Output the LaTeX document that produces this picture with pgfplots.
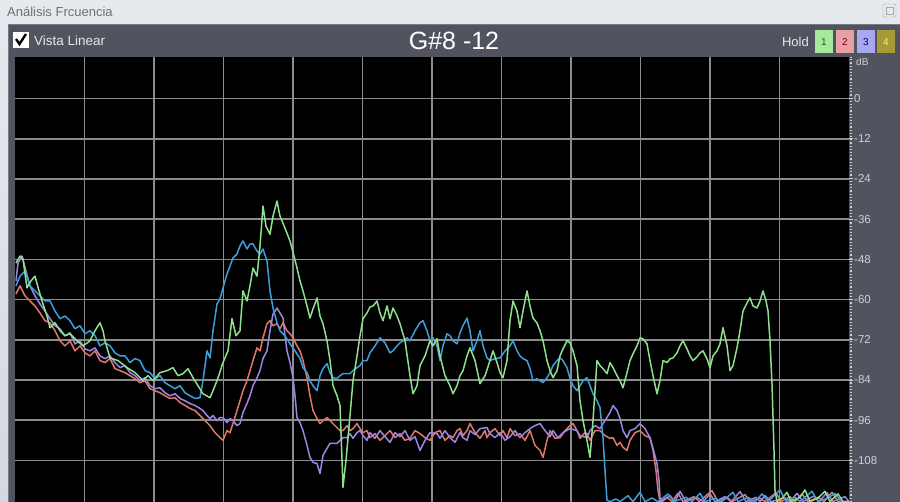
\documentclass[border=0pt]{standalone}
\usepackage{fontspec}
\setmainfont{Liberation Sans}
\usepackage{pgfplots}
\pgfplotsset{compat=1.18}
\definecolor{tbtop}{HTML}{E6EAEF}
\definecolor{tbbot}{HTML}{D3D9E0}
\definecolor{panel}{HTML}{51545F}
\definecolor{panelborder}{HTML}{767A84}
\definecolor{titletxt}{HTML}{6B7078}
\definecolor{ltxt}{HTML}{E4E6EA}
\definecolor{gridc}{HTML}{8C8C8C}
\definecolor{ticktxt}{HTML}{CDD0D6}
\definecolor{sgreen}{HTML}{8FE08C}
\definecolor{sblue}{HTML}{3C9FDC}
\definecolor{sred}{HTML}{E0786A}
\definecolor{spurple}{HTML}{9B86E6}
\definecolor{bgreen}{HTML}{A6E89C}
\definecolor{bpink}{HTML}{E8A0A8}
\definecolor{bpurple}{HTML}{A8A8F0}
\definecolor{bolive}{HTML}{A49A3C}
\begin{document}
\begin{tikzpicture}[x=1pt,y=1pt]
\useasboundingbox (0,0) rectangle (900,502);
\shade[top color=tbtop,bottom color=tbbot] (0,0) rectangle (900,502);
\fill[panel] (8,0) rectangle (900,478);
\draw[panelborder,line width=1pt] (8.5,0) -- (8.5,477.5) -- (900,477.5);
\node[anchor=west,text=titletxt,font=\fontsize{13}{13}\selectfont,inner sep=0pt] at (7,490) {Análisis Frcuencia};
\draw[gray!70,fill=tbtop,rounded corners=1.5pt] (883,485) rectangle (896,498);
\draw[gray!70] (886,488) rectangle (893,495);
% checkbox
\fill[white] (13,454) rectangle (29,470);
\draw[line width=2.4pt,black] (16,463)--(19.5,458)--(26,468);
\node[anchor=west,text=ltxt,font=\fontsize{13.5}{13.5}\selectfont,inner sep=0pt] at (34,461.5) {Vista Linear};
\node[text=white,font=\fontsize{25}{25}\selectfont,inner sep=0pt] at (454,461) {G\#8 -12};
\node[anchor=east,text=ltxt,font=\fontsize{13}{13}\selectfont,inner sep=0pt] at (809,460.5) {Hold};
\fill[bgreen] (815,449) rectangle (833,472);
\fill[bpink] (836,449) rectangle (854,472);
\fill[bpurple] (857,449) rectangle (875,472);
\fill[bolive] (877,449) rectangle (895,472);
\node[text=green!45!black,font=\fontsize{10}{10}\selectfont] at (824,460) {1};
\node[text=red!50!black,font=\fontsize{10}{10}\selectfont] at (845,460) {2};
\node[text=blue!50!black,font=\fontsize{10}{10}\selectfont] at (866,460) {3};
\node[text=yellow!70!white,font=\fontsize{10}{10}\selectfont] at (886,460) {4};
\begin{axis}[
  at={(15pt,0pt)}, anchor=south west,
  width=834pt, height=445pt, scale only axis,
  xmin=15, xmax=849, ymin=-120.4, ymax=12.4,
  axis background/.style={fill=black},
  axis line style={draw=none},
  xtick={84.5,154,223.5,293,362.5,432,501.5,571,640.5,710,779.5},
  xticklabels={},
  ytick={0,-12,-24,-36,-48,-60,-72,-84,-96,-108},
  grid=major,
  major grid style={gridc,line width=1.6pt},
  yticklabel pos=right, ytick pos=right,
  xtick style={draw=none},
  ytick style={draw=ticktxt,line width=1pt},
  tick align=outside, major tick length=4pt,
  yticklabel style={font=\fontsize{11.5}{11.5}\selectfont,text=ticktxt,inner sep=1pt},
  /pgf/number format/assume math mode=true,
  every axis plot/.append style={line width=1.5pt,line join=round,mark=none},
]
% red (Hold 2)
\addplot[sred] coordinates {
(16,-58.3)(20,-55.9)(25,-58.9)(30,-60.4)(35,-61.9)(40,-64.0)(45,-66.3)(50,-66.9)(55,-69.3)(60,-72.3)
(65,-73.8)(70,-72.3)(75,-75.3)(80,-73.8)(85,-75.9)(90,-76.8)(95,-75.3)(100,-78.2)(105,-78.8)(110,-77.6)
(115,-80.6)(120,-81.2)(125,-81.8)(130,-82.7)(135,-83.6)(140,-84.8)(145,-84.2)(150,-86.6)(155,-87.2)(160,-87.8)
(165,-88.7)(170,-89.5)(175,-89.3)(180,-90.7)(185,-91.6)(190,-92.5)(195,-93.1)(200,-94.6)(205,-96.1)(210,-97.6)
(215,-99.7)(220,-101.2)(223,-102.0)(227,-99.1)(230,-99.7)(233,-97.0)(237,-93.1)(240,-90.2)(243,-87.2)(247,-84.2)
(250,-81.2)(253,-78.2)(257,-74.4)(260,-75.3)(263,-71.4)(267,-67.2)(270,-66.3)(273,-67.8)(277,-67.2)(280,-68.7)
(283,-66.9)(287,-69.3)(290,-70.2)(293,-71.4)(297,-73.8)(300,-75.3)(303,-78.2)(307,-83.3)(310,-88.7)(313,-93.1)
(317,-95.5)(320,-97.0)(323,-96.1)(327,-95.2)(330,-96.1)(333,-97.0)(337,-98.2)(340,-99.1)(343,-99.1)(347,-97.6)
(350,-99.1)(353,-98.5)(357,-97.0)(360,-98.5)(363,-99.7)(367,-99.1)(370,-101.2)(375,-100.0)(380,-102.0)(385,-100.6)
(390,-99.1)(395,-101.2)(400,-100.0)(405,-102.0)(410,-101.4)(415,-99.1)(420,-100.0)(425,-101.2)(430,-102.0)(435,-99.7)
(440,-99.1)(445,-102.0)(450,-100.6)(453,-101.2)(457,-99.1)(460,-98.5)(463,-100.6)(467,-99.1)(470,-97.0)(475,-99.7)
(480,-101.4)(485,-99.1)(487,-101.2)(490,-99.7)(495,-98.5)(500,-100.6)(503,-99.1)(507,-101.2)(510,-98.5)(515,-100.6)
(520,-100.0)(525,-102.0)(530,-99.1)(535,-103.5)(540,-105.0)(543,-107.1)(547,-102.0)(550,-99.1)(555,-101.4)(560,-101.2)
(565,-99.1)(570,-97.6)(573,-97.0)(577,-99.1)(580,-101.4)(585,-99.7)(587,-100.0)(590,-102.0)(595,-99.1)(600,-99.1)
(605,-100.6)(610,-101.4)(613,-101.2)(617,-103.5)(620,-102.6)(623,-104.1)(627,-105.0)(630,-102.0)(635,-99.7)(640,-99.1)
(645,-100.6)(650,-101.2)(653,-105.0)(656,-111.0)(658,-116.9)(660,-120.3)(667,-119.0)(672,-120.3)(678,-117.8)(683,-120.3)
(694,-118.8)(699,-120.3)(712,-117.0)(718,-120.3)(727,-119.0)(732,-120.3)(745,-118.2)(750,-120.3)(760,-119.3)(765,-120.3)
(776,-117.6)(781,-120.3)(790,-118.8)(795,-120.3)(802,-118.0)(808,-120.3)(818,-119.0)(824,-120.3)(832,-117.5)(838,-120.3)(849,-120.3)
};
% purple (Hold 3)
\addplot[spurple] coordinates {
(16,-54.4)(18,-49.1)(22,-47.0)(26,-51.5)(30,-55.9)(35,-58.9)(40,-61.3)(45,-63.4)(50,-65.7)(55,-67.8)
(60,-68.7)(65,-70.8)(70,-69.9)(75,-73.2)(80,-72.3)(85,-74.7)(90,-75.3)(95,-74.4)(100,-76.8)(105,-77.6)
(110,-76.8)(115,-78.8)(120,-80.3)(125,-79.7)(130,-81.8)(135,-82.7)(140,-84.2)(145,-83.3)(150,-85.7)(155,-86.6)
(160,-86.3)(165,-87.8)(170,-88.7)(175,-88.1)(180,-89.5)(185,-90.2)(190,-91.0)(195,-91.6)(200,-92.5)(203,-93.1)
(207,-94.6)(210,-95.5)(213,-94.6)(217,-96.1)(220,-95.2)(223,-95.2)(227,-96.7)(230,-95.5)(233,-96.1)(237,-97.6)
(240,-97.0)(243,-93.7)(247,-91.0)(250,-88.7)(253,-85.7)(257,-83.3)(260,-81.2)(263,-77.6)(267,-75.3)(270,-69.3)
(273,-64.3)(277,-62.5)(280,-64.0)(283,-65.5)(285,-70.8)(287,-75.3)(290,-78.8)(293,-83.3)(295,-88.7)(297,-95.2)
(300,-96.7)(303,-99.1)(307,-103.5)(310,-107.1)(313,-108.6)(317,-108.9)(320,-111.9)(323,-106.5)(327,-104.4)(330,-102.9)
(333,-102.9)(337,-102.9)(340,-102.0)(343,-101.2)(347,-101.2)(350,-100.0)(353,-101.4)(357,-99.7)(360,-99.1)(363,-100.6)
(367,-102.0)(370,-99.7)(375,-101.4)(380,-99.1)(385,-100.9)(390,-102.6)(395,-99.7)(400,-100.9)(405,-99.1)(410,-102.0)
(415,-100.9)(420,-105.0)(425,-102.0)(430,-99.7)(437,-100.0)(440,-101.4)(445,-99.1)(450,-101.2)(455,-102.6)(460,-99.7)
(463,-101.2)(467,-102.0)(470,-99.1)(475,-100.3)(480,-98.5)(487,-98.2)(490,-100.0)(495,-101.2)(500,-99.7)(505,-102.0)
(510,-100.9)(515,-99.1)(520,-101.2)(525,-99.7)(530,-98.5)(535,-97.6)(540,-97.0)(545,-99.1)(550,-100.9)(553,-99.1)
(558,-101.2)(563,-99.7)(570,-98.5)(577,-99.1)(580,-100.6)(587,-101.2)(590,-99.1)(595,-97.6)(600,-98.5)(605,-96.1)
(610,-93.7)(613,-91.6)(617,-93.1)(620,-95.5)(623,-99.1)(627,-101.2)(630,-99.1)(635,-98.5)(640,-97.0)(645,-98.5)
(650,-101.2)(653,-104.4)(657,-108.9)(659,-113.9)(660,-119.0)(662,-120.3)(670,-118.5)(675,-120.3)(680,-117.2)(686,-120.3)
(697,-119.0)(703,-120.3)(710,-118.0)(715,-120.3)(725,-118.8)(731,-120.3)(740,-117.3)(746,-120.3)(756,-119.0)(760,-120.3)
(765,-118.5)(771,-120.3)(785,-119.2)(790,-120.3)(797,-117.8)(803,-120.3)(814,-118.6)(819,-120.3)(827,-117.6)(833,-120.3)(845,-118.8)(849,-120.3)
};
% blue
\addplot[sblue] coordinates {
(16,-55.9)(20,-53.0)(25,-51.5)(30,-55.9)(35,-57.4)(40,-58.9)(45,-60.4)(50,-60.4)(55,-63.4)(60,-65.7)
(65,-64.9)(70,-66.3)(75,-68.7)(80,-67.8)(85,-70.2)(90,-69.3)(95,-70.8)(100,-73.8)(105,-72.9)(110,-73.8)
(115,-75.9)(120,-76.8)(125,-76.8)(130,-78.8)(135,-77.6)(140,-78.2)(145,-81.2)(150,-81.8)(155,-83.6)(160,-82.7)
(165,-84.8)(170,-85.7)(175,-86.6)(180,-85.7)(185,-87.8)(190,-88.7)(195,-89.5)(200,-89.3)(203,-84.2)(207,-75.3)
(210,-77.4)(213,-69.3)(217,-61.3)(220,-59.8)(223,-56.5)(227,-52.4)(230,-50.0)(233,-47.6)(237,-46.4)(240,-44.0)
(243,-42.5)(247,-44.9)(250,-43.4)(253,-43.4)(257,-45.5)(260,-46.4)(263,-44.9)(267,-48.5)(270,-57.4)(273,-62.5)
(277,-66.9)(280,-69.3)(285,-70.8)(290,-73.2)(295,-75.3)(300,-77.6)(303,-80.3)(307,-81.8)(310,-84.2)(313,-85.7)
(317,-87.2)(320,-82.7)(323,-80.6)(327,-79.1)(330,-81.8)(333,-83.3)(337,-83.6)(340,-82.7)(343,-82.1)(347,-82.1)
(350,-82.1)(353,-81.2)(357,-80.3)(360,-79.7)(363,-78.2)(367,-78.2)(370,-75.9)(375,-73.8)(380,-71.4)(385,-72.9)
(390,-75.9)(393,-75.3)(397,-73.8)(400,-72.9)(403,-72.3)(407,-71.4)(410,-72.3)(415,-69.3)(420,-66.9)(423,-66.3)
(427,-69.3)(430,-72.3)(433,-71.4)(437,-73.8)(440,-78.2)(443,-73.8)(447,-70.2)(450,-70.8)(453,-72.3)(457,-73.2)
(460,-69.9)(463,-67.8)(467,-65.5)(470,-69.3)(473,-75.3)(477,-72.3)(480,-69.3)(483,-73.8)(487,-77.4)(490,-78.2)
(495,-77.6)(500,-77.4)(505,-75.3)(510,-73.8)(513,-72.3)(517,-75.3)(520,-76.8)(523,-77.6)(527,-78.2)(530,-80.6)
(533,-84.2)(537,-83.6)(540,-84.2)(543,-84.8)(547,-83.3)(550,-81.8)(553,-79.7)(557,-78.2)(560,-77.4)(563,-78.2)
(567,-80.3)(570,-83.6)(573,-85.7)(577,-87.2)(580,-85.7)(583,-84.2)(587,-83.3)(590,-85.7)(593,-88.1)(597,-90.2)
(600,-92.2)(603,-101.2)(605,-111.0)(607,-119.9)(610,-120.3)(616,-119.5)(620,-120.3)(628,-118.5)(633,-120.3)(640,-117.5)
(645,-120.3)(652,-119.2)(658,-120.3)(668,-118.0)(674,-120.3)(686,-119.0)(692,-120.3)(700,-117.8)(705,-120.3)(715,-119.3)
(722,-120.3)(733,-117.5)(738,-120.3)(748,-119.0)(755,-120.3)(762,-118.0)(768,-120.3)(780,-116.8)(786,-120.3)(795,-119.0)
(800,-120.3)(812,-117.2)(818,-120.3)(828,-119.2)(835,-117.8)(841,-120.3)(849,-120.3)
};
% green (Hold 1)
\addplot[sgreen] coordinates {
(16,-49.1)(20,-47.0)(23,-47.9)(27,-56.5)(31,-54.4)(35,-53.0)(39,-57.4)(43,-61.3)(47,-64.9)(50,-68.4)
(55,-66.9)(60,-69.3)(65,-70.8)(70,-70.2)(77,-72.3)(83,-73.8)(90,-72.3)(95,-69.3)(100,-66.9)(103,-69.3)
(105,-72.3)(110,-77.4)(118,-78.2)(127,-80.3)(135,-81.8)(143,-84.2)(148,-82.7)(153,-84.2)(160,-81.8)(167,-81.2)
(173,-80.3)(178,-82.7)(183,-82.1)(188,-80.6)(193,-83.3)(198,-85.7)(203,-88.1)(210,-89.3)(213,-87.2)(217,-84.2)
(223,-78.8)(228,-75.3)(232,-65.7)(236,-70.8)(240,-69.3)(243,-57.4)(247,-60.4)(250,-55.9)(253,-50.6)(257,-53.0)
(260,-44.0)(263,-32.1)(266,-38.1)(270,-40.5)(273,-35.1)(277,-30.6)(280,-35.1)(283,-37.2)(287,-40.2)(290,-42.5)
(294,-47.0)(297,-50.6)(300,-54.4)(303,-57.4)(307,-61.9)(310,-65.5)(313,-62.8)(317,-59.5)(320,-64.9)(323,-67.2)
(327,-72.3)(330,-78.2)(333,-85.7)(337,-88.7)(340,-91.6)(343,-116.0)(346,-108.0)(350,-94.6)(353,-84.2)(357,-76.8)
(360,-70.8)(363,-65.7)(367,-64.0)(370,-62.2)(373,-61.9)(377,-60.4)(380,-64.0)(383,-66.3)(387,-61.9)(390,-65.7)
(393,-62.5)(397,-64.9)(400,-67.2)(405,-72.3)(410,-82.7)(413,-88.1)(417,-85.7)(420,-79.7)(425,-76.8)(430,-72.3)
(433,-73.8)(437,-71.7)(440,-76.8)(445,-82.7)(450,-85.7)(453,-88.1)(457,-85.7)(460,-82.7)(463,-81.2)(467,-76.8)
(470,-74.4)(475,-78.2)(480,-85.1)(485,-82.7)(490,-78.2)(493,-75.3)(497,-78.8)(500,-81.8)(503,-83.3)(507,-78.2)
(510,-66.3)(513,-60.4)(517,-63.4)(520,-68.4)(523,-63.4)(527,-57.4)(530,-61.9)(533,-65.5)(537,-67.0)(540,-69.3)
(543,-72.3)(547,-78.2)(550,-81.2)(553,-83.3)(557,-81.2)(560,-76.8)(563,-74.7)(567,-72.3)(570,-72.9)(573,-75.3)
(577,-79.7)(580,-90.2)(583,-96.1)(587,-102.0)(590,-107.1)(593,-96.1)(597,-78.2)(600,-79.7)(603,-80.6)(607,-82.1)
(610,-78.8)(613,-80.3)(617,-82.7)(620,-84.2)(623,-86.3)(627,-81.8)(630,-78.2)(633,-76.2)(637,-73.8)(640,-71.4)
(643,-71.7)(647,-73.2)(650,-78.2)(653,-82.7)(657,-88.1)(660,-84.2)(663,-78.2)(667,-78.8)(670,-77.7)(673,-77.4)
(677,-75.9)(680,-73.8)(683,-72.3)(687,-74.7)(690,-76.8)(693,-78.2)(697,-77.1)(700,-75.9)(703,-75.3)(707,-77.7)
(710,-80.3)(713,-76.8)(717,-75.3)(720,-73.2)(723,-68.4)(727,-73.8)(730,-81.2)(733,-79.7)(737,-74.4)(740,-69.3)
(743,-63.4)(747,-61.0)(750,-59.5)(753,-61.9)(757,-62.5)(760,-60.4)(763,-57.4)(766,-60.4)(768,-63.4)(770,-72.3)
(772,-85.1)(774,-105.0)(775,-116.9)(777,-120.3)(783,-119.0)(787,-117.5)(791,-120.3)(800,-119.0)(805,-116.8)(810,-120.3)
(818,-119.2)(825,-117.2)(830,-120.3)(838,-118.0)(843,-120.3)(849,-120.3)
};
\end{axis}
\draw[ticktxt,dotted,line width=1.2pt] (851,0) -- (851,445);
\node[anchor=west,text=ticktxt,font=\fontsize{10}{10}\selectfont,inner sep=0pt] at (856,440) {dB};
\end{tikzpicture}
\end{document}
